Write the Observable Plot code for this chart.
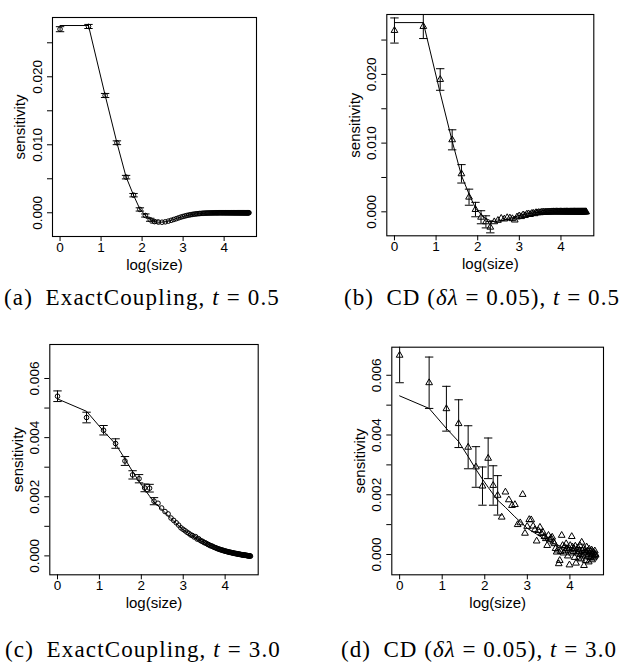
<!DOCTYPE html>
<html><head><meta charset="utf-8">
<script src="https://cdn.jsdelivr.net/npm/d3@7"></script>
<script src="https://cdn.jsdelivr.net/npm/@observablehq/plot@0.6"></script>
<style>
body{margin:0;background:#fff;}
#root{position:relative;width:632px;height:662px;overflow:hidden;background:#fff;}
.panel{position:absolute;}
.cap{position:absolute;font-family:"Liberation Serif","Times New Roman",serif;font-size:23px;white-space:nowrap;transform:translate(-50%,-50%);color:#000;line-height:1;}
</style></head><body><div id="root"></div>
<script>
// sample sizes (x axis is log(size))
const sizes = [
  1,2,3,4,5,6,7,8,9,10, 11,12,13,14,15,16,17,18,19,20,
  21,22,23,24,25,26,27,28,29,30, 31,32,33,34,35,36,37,38,39,40,
  41,42,43,44,45,46,47,48,49,50, 51,52,53,54,55,56,57,58,59,60,
  61,62,63,64,65,66,67,68,69,70, 71,72,73,74,75,76,77,78,79,80,
  81,82,83,84,85,86,87,88,89,90, 91,92,93,94,95,96,97,98,99,100];

// (a) ExactCoupling, t = 0.5 : estimated sensitivity per size
const exactT05 = [
  0.0270,0.0274,0.01725,0.0103,0.00524,0.00259,0.00049,-0.0004,-0.00103,-0.0013,
  -0.00137,-0.00139,-0.00133,-0.00123,-0.00111,-0.00099,-0.00087,-0.00075,-0.00064,-0.00055,
  -0.00047,-0.0004,-0.00034,-0.00029,-0.00025,-0.00021,-0.00018,-0.00015,-0.00013,-0.00011,
  -0.0001,-0.00008,-0.00007,-0.00006,-0.00005,-0.00004,-0.00004,-0.00003,-0.00003,-0.00002,
  -0.00002,-0.00002,-0.00001,-0.00001,-0.00001,-0.00001,-0.00001,0,0,0,
  0,0,0,0,0,0,0,0,0,0, 0,0,0,0,0,0,0,0,0,0, 0,0,0,0,0,0,0,0,0,0,
  0,0,0,0,0,0,0,0,0,0, 0,0,0,0,0,0,0,0,0,0];
const exactT05Err = [0.00037,0.0003,0.0003,0.00028,0.00026,0.00025,0.00024,0.00023,0.00022,0.00022];

// (b) CD (dl = 0.05), t = 0.5
const cdT05 = [
  0.02639,0.02697,0.01926,0.01048,0.00553,0.00213,0.00033,-0.00079,-0.00146,-0.00224,
  -0.00145,-0.00125,-0.00095,-0.00105,-0.00085,-0.0009,-0.001,-0.0012,-0.00075,-0.0006,
  -0.0007,-0.00045,-0.00055,-0.00035,-0.0003,-0.0004,-0.00025,-0.0002,-0.00028,-0.00012,
  -0.00015,-0.0001,-0.00014,-0.00006,-0.00008,-0.00005,-0.00007,-0.00003,-0.00004,-0.00002,
  -0.00003,-0.00001,-0.00002,0,-0.00001,0.00001,-0.00001,0,0.00001,0,
  0,-0.00001,0,0.00001,0,0,-0.00001,0,0,0,
  0,0,0.00001,0,0,-0.00001,0,0,0,0,
  0,0,0,0,0.00001,0,0,0,0,0,
  0,0,0,0,0,0,0,0,0,0, 0,0,0,0,0,0,0,0,0,0];
const cdT05Err = [0.00183,0.00175,0.00157,0.00146,0.00134,0.00117,0.00105,0.00095,0.00088,0.00082];

// (c) ExactCoupling, t = 3.0
const exactT30 = [
  0.0054,0.00468,0.00425,0.0038,0.00321,0.00274,0.00261,0.0023,0.00229,0.00185,
  0.00178,0.00162,0.0015,0.00142,0.00128,0.0012,0.00112,0.00104,0.00095,0.0009,
  0.00085,0.0008,0.00076,0.00071,0.00069,0.00064,0.00065,0.00057,0.00058,0.00053,
  0.0005,0.00049,0.00045,0.00044,0.00042,0.00039,0.00038,0.00035,0.00034,0.00033,
  0.00031,0.00029,0.00028,0.00027,0.00025,0.00024,0.00023,0.00022,0.00021,0.0002,
  0.00019,0.00019,0.00017,0.00017,0.00016,0.00015,0.00015,0.00014,0.00013,0.00013,
  0.00012,0.00012,0.00011,0.00011,0.0001,0.0001,0.00009,0.00009,0.00008,0.00008,
  0.00008,0.00007,0.00007,0.00006,0.00006,0.00006,0.00005,0.00005,0.00005,0.00004,
  0.00004,0.00004,0.00003,0.00003,0.00003,0.00003,0.00002,0.00002,0.00002,0.00002,
  0.00001,0.00001,0.00001,0.00001,0,0,0,0,0,-0.00001];
const exactT30Err = [0.00018,0.00018,0.00016,0.00016,0.00015,0.00014,0.00014,0.00013,0.00013,0.00012];

// (d) CD (dl = 0.05), t = 3.0
const cdT30 = [
  0.00667,0.00575,0.00488,0.00438,0.00359,0.00293,0.00229,0.00322,0.00231,0.00198,
  0.00125,0.00209,0.00183,0.00164,0.00167,0.001,0.00106,0.00201,0.00071,0.00094,
  0.00117,0.00116,0.00095,0.00083,0.00045,0.0008,0.00091,0.0007,0.00074,0.0006,
  0.00053,0.0003,0.00064,0.00049,0.00055,0.00058,0.00042,0.00036,0.0002,0.00008,
  0.00015,-0.00031,-0.0002,0.0001,0.00064,0.0003,0.00005,0.00025,0.00012,0.00036,
  0.0002,-0.00005,0.00015,-0.00035,0.0003,0.00005,0.0006,0.00025,0.0001,0.0002,
  -0.0001,0.00028,-0.00029,0.00015,0.00005,0.00022,-0.00012,0.0001,0.0003,0,
  -0.00015,0.00041,0.00012,-0.00005,0.0002,-0.00037,0.00005,0.00015,-0.0002,0.00008,
  0.00025,-0.00008,0.00012,0,-0.00025,0.00018,0.00005,-0.0001,0.0001,-0.00005,
  0.00015,-0.00018,0.00002,0.00008,-0.00012,0.00005,-0.00008,0.00012,-0.00003,0];
const cdT30Err = [0.00092,0.00086,0.00075,0.0008,0.00072,0.00068,0.00064,0.00068,0.00066,0.00066];

// true sensitivity curves (read at selected sizes)
const trueT05Sizes = [1,2,3,4,5,6,7,8,9,10,11,12,13,14,15,16,17,18,19,20,22,25,28,30,35,40,50,60,80,100];
const trueT05 = [0.02754,0.02754,0.0173,0.0103,0.00528,0.00258,0.00055,-0.00038,-0.00098,-0.00128,
  -0.00138,-0.00138,-0.00132,-0.00122,-0.0011,-0.00098,-0.00086,-0.00074,-0.00064,-0.00055,
  -0.0004,-0.00025,-0.00015,-0.00011,-0.00005,-0.00002,-0.00001,0,0,0];
const trueT30Sizes = [1,2,3,4,5,6,7,8,9,10,12,15,20,25,28,30,35,38,40,45,50,55,60,70,80,90,100];
const trueT30 = [0.00531,0.00489,0.00422,0.00378,0.00328,0.00285,0.00252,0.00225,0.00202,0.00182,
  0.00158,0.00126,0.00088,0.00068,0.00058,0.00052,0.00042,0.00036,0.00033,0.00026,0.0002,
  0.00016,0.00013,0.00008,0.00005,0.00002,0];

const xTicks = [0,1,2,3,4];
const yTicksT05 = [0,0.005,0.01,0.015,0.02,0.025];
const yLabelsT05 = [0,0.01,0.02];
const yTicksT30 = [0,0.001,0.002,0.003,0.004,0.005,0.006];
const yLabelsT30 = [0,0.002,0.004,0.006];

const captions = [
  {html: '(a)&ensp;ExactCoupling, <i>t</i> = 0.5', cx: 142, cy: 297},
  {html: '(b)&ensp;CD (<i>δλ</i> = 0.05), <i>t</i> = 0.5', cx: 482, cy: 297},
  {html: '(c)&ensp;ExactCoupling, <i>t</i> = 3.0', cx: 143, cy: 649},
  {html: '(d)&ensp;CD (<i>δλ</i> = 0.05), <i>t</i> = 3.0', cx: 479, cy: 649}
];

const fmt = d3.format(".3f");
const capSymbol = {draw(ctx, size) { const r = Math.sqrt(size / Math.PI); ctx.moveTo(-r, 0); ctx.lineTo(r, 0); }};

const panels = [
  {left:0, top:0, w:316, h:285, frame:[52,17,256,236], yDomain:[-0.00349,0.02872], pts: exactT05, err: exactT05Err,
   lineS: trueT05Sizes, lineV: trueT05, yTicks: yTicksT05, yLabels: yLabelsT05, symbol:"circle", r:2.3},
  {left:316, top:0, w:316, h:285, frame:[386.3,14,593.3,235.3], yDomain:[-0.00349,0.02872], pts: cdT05, err: cdT05Err,
   lineS: trueT05Sizes, lineV: trueT05, yTicks: yTicksT05, yLabels: yLabelsT05, symbol:"triangle", r:2.5},
  {left:0, top:330, w:316, h:290, frame:[49.3,344,257.7,574.3], yDomain:[-0.00064,0.00715], pts: exactT30, err: exactT30Err,
   lineS: trueT30Sizes, lineV: trueT30, yTicks: yTicksT30, yLabels: yLabelsT30, symbol:"circle", r:2.3},
  {left:316, top:330, w:316, h:290, frame:[391.3,346.7,603,574.3], yDomain:[-0.00068,0.00694], pts: cdT30, err: cdT30Err,
   lineS: trueT30Sizes, lineV: trueT30, yTicks: yTicksT30, yLabels: yLabelsT30, symbol:"triangle", r:2.5}
];

const root = document.getElementById("root");
for (const p of panels) {
  const [fl, ft, fr, fb] = p.frame;
  const pts = sizes.map((s, i) => ({x: Math.log(s), y: p.pts[i]}));
  const line = p.lineS.map((s, i) => ({x: Math.log(s), y: p.lineV[i]}));
  const err = p.err.map((e, i) => ({x: Math.log(sizes[i]), lo: p.pts[i] - e, hi: p.pts[i] + e}));
  const caps = err.flatMap(d => [{x: d.x, y: d.lo}, {x: d.x, y: d.hi}]);
  const svg = Plot.plot({
    width: p.w, height: p.h,
    marginLeft: fl - p.left, marginRight: p.left + p.w - fr,
    marginTop: ft - p.top, marginBottom: p.top + p.h - fb,
    x: {domain: [-0.184, 4.789]},
    y: {domain: p.yDomain},
    style: {fontFamily: "'Liberation Sans', Arial, sans-serif", fontSize: "13.5px", color: "#000", background: "transparent", overflow: "visible"},
    marks: [
      Plot.line(line, {x: "x", y: "y", stroke: "#000", strokeWidth: 1, clip: true}),
      Plot.ruleX(err, {x: "x", y1: "lo", y2: "hi", stroke: "#000", strokeWidth: 1, clip: true}),
      Plot.dot(caps, {x: "x", y: "y", symbol: capSymbol, r: 4.2, stroke: "#000", strokeWidth: 1, clip: true}),
      Plot.dot(pts, {x: "x", y: "y", symbol: p.symbol, r: p.r, stroke: "#000", strokeWidth: 1, fill: "none", clip: true}),
      Plot.frame({stroke: "#000", strokeWidth: 1.1}),
      Plot.axisX({ticks: xTicks, tickSize: 5, tickPadding: 1, fontSize: 13.5, tickFormat: d => String(d), label: null, stroke: "#000"}),
      Plot.axisY({ticks: p.yTicks, tickSize: 5, tickFormat: () => "", label: null, stroke: "#000"}),
      Plot.text(p.yLabels, {y: d => d, text: d => fmt(d), frameAnchor: "left", textAnchor: "middle", lineAnchor: "middle", dx: -15, rotate: -90, fontSize: 13.5, fill: "#000"}),
      Plot.text(["sensitivity"], {text: d => d, frameAnchor: "left", textAnchor: "middle", lineAnchor: "middle", dx: -32, rotate: -90, fontSize: 15, fill: "#000"}),
      Plot.text(["log(size)"], {text: d => d, frameAnchor: "bottom", textAnchor: "middle", lineAnchor: "middle", dy: 28.5, fontSize: 15, fill: "#000"})
    ]
  });
  svg.classList.add("panel");
  svg.style.left = p.left + "px";
  svg.style.top = p.top + "px";
  root.appendChild(svg);
}

for (const c of captions) {
  const el = document.createElement("div");
  el.className = "cap";
  el.innerHTML = c.html;
  el.style.left = c.cx + "px";
  el.style.top = c.cy + "px";
  root.appendChild(el);
  const w = el.getBoundingClientRect().width;
  const n = el.textContent.length;
  el.style.letterSpacing = ((276 - w) / n) + "px";
}
</script>
</body></html>
